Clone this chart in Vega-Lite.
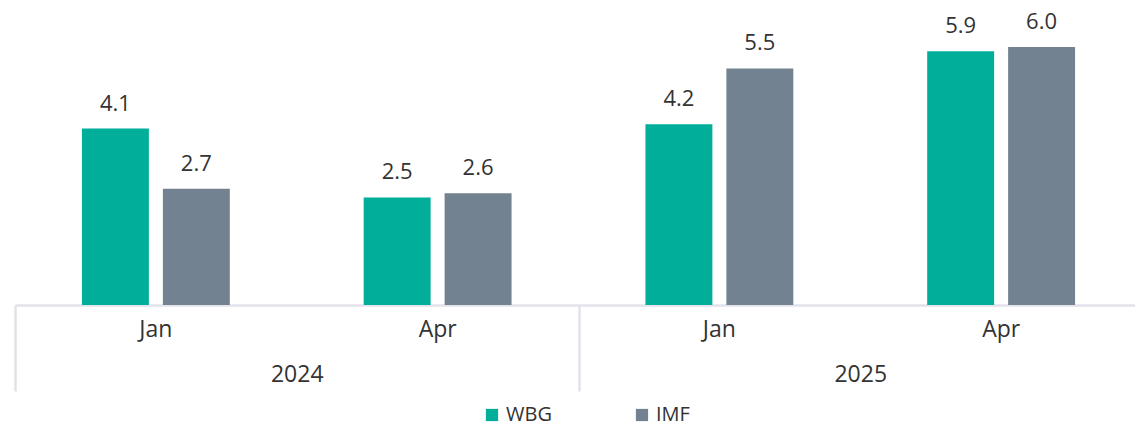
{
  "$schema": "https://vega.github.io/schema/vega-lite/v6.json",
  "width": 1127,
  "height": 305,
  "autosize": {"type": "none"},
  "padding": {"left": 15, "top": 0, "right": 0, "bottom": 122},
  "background": "white",
  "config": {"view": {"stroke": null}, "font": "Open Sans"},
  "data": {
    "values": [
      {"year": "2024", "month": "Jan", "ym": "2024 Jan", "series": "WBG", "value": 4.1},
      {"year": "2024", "month": "Jan", "ym": "2024 Jan", "series": "IMF", "value": 2.7},
      {"year": "2024", "month": "Apr", "ym": "2024 Apr", "series": "WBG", "value": 2.5},
      {"year": "2024", "month": "Apr", "ym": "2024 Apr", "series": "IMF", "value": 2.6},
      {"year": "2025", "month": "Jan", "ym": "2025 Jan", "series": "WBG", "value": 4.2},
      {"year": "2025", "month": "Jan", "ym": "2025 Jan", "series": "IMF", "value": 5.5},
      {"year": "2025", "month": "Apr", "ym": "2025 Apr", "series": "WBG", "value": 5.9},
      {"year": "2025", "month": "Apr", "ym": "2025 Apr", "series": "IMF", "value": 6.0}
    ]
  },
  "layer": [
    {
      "encoding": {
        "x": {
          "field": "ym",
          "type": "nominal",
          "sort": ["2024 Jan", "2024 Apr", "2025 Jan", "2025 Apr"],
          "scale": {"paddingInner": 0, "paddingOuter": 0},
          "axis": {
            "orient": "bottom",
            "title": null,
            "labelExpr": "split(datum.label, ' ')[1]",
            "ticks": false,
            "labelAngle": 0,
            "labelPadding": 13,
            "labelFontSize": 23,
            "labelColor": "#333333",
            "domainColor": "#e2e2ea",
            "domainWidth": 2.5
          }
        },
        "xOffset": {
          "field": "series",
          "type": "nominal",
          "sort": ["WBG", "IMF"],
          "scale": {"paddingInner": 0.1728, "paddingOuter": 0.827}
        },
        "y": {
          "field": "value",
          "type": "quantitative",
          "scale": {"domain": [0, 7.09], "nice": false, "zero": true},
          "axis": null
        }
      },
      "layer": [
        {
          "mark": {"type": "bar"},
          "encoding": {
            "color": {
              "field": "series",
              "type": "nominal",
              "scale": {"domain": ["WBG", "IMF"], "range": ["#00AE9A", "#738290"]},
              "legend": {
                "title": null,
                "orient": "none",
                "legendX": 467,
                "legendY": 405,
                "direction": "horizontal",
                "symbolType": "square",
                "symbolSize": 150,
                "symbolStrokeWidth": 0,
                "labelFontSize": 20,
                "labelColor": "#333333",
                "labelOffset": 4,
                "columnPadding": 80
              }
            }
          }
        },
        {
          "mark": {"type": "text", "baseline": "bottom", "dy": -13, "fontSize": 22, "color": "#333333"},
          "encoding": {
            "text": {"field": "value", "type": "quantitative", "format": ".1f"}
          }
        }
      ]
    },
    {
      "mark": {"type": "rule", "opacity": 0},
      "encoding": {
        "x": {
          "field": "year",
          "type": "nominal",
          "scale": {"paddingInner": 0, "paddingOuter": 0},
          "axis": {
            "orient": "bottom",
            "title": null,
            "domain": false,
            "ticks": true,
            "tickBand": "extent",
            "tickSize": 86,
            "tickColor": "#e2e2ea",
            "tickWidth": 2.5,
            "labelAngle": 0,
            "labelPadding": -28,
            "labelFontSize": 23,
            "labelColor": "#333333"
          }
        }
      }
    }
  ],
  "resolve": {"scale": {"x": "independent"}, "axis": {"x": "independent"}}
}
